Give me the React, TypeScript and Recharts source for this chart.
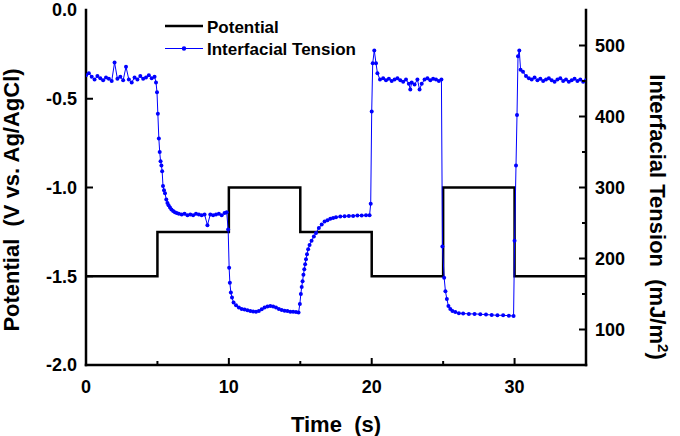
import { ComposedChart, Line, XAxis, YAxis, Legend } from "recharts";

const FONT = 'Arial, "Liberation Sans", Helvetica, sans-serif';
const BLUE = "#0000FF";

// potential steps (V vs. Ag/AgCl)
const potTime = [0, 5, 10, 15, 20, 25, 30, 35];
const potValue = [-1.5, -1.25, -1.0, -1.25, -1.5, -1.0, -1.5, -1.5];

// interfacial tension (mJ/m2)
const tensionTime = [
  0, 0.2, 0.4, 0.6, 0.8, 1.0, 1.2, 1.4, 1.6, 1.8, 2.0, 2.2, 2.4, 2.6, 2.8, 3.0, 3.2, 3.4, 3.6, 3.8, 4.0, 4.2, 4.4, 4.6, 4.8,
  4.9, 4.97, 5.03, 5.1, 5.16, 5.22, 5.28, 5.33, 5.39, 5.46, 5.53, 5.62, 5.7, 5.78, 5.88, 5.98, 6.1, 6.22, 6.35, 6.5, 6.7, 6.9,
  7.1, 7.3, 7.5, 7.7, 7.9, 8.1, 8.3, 8.5, 8.7, 8.9, 9.1, 9.3, 9.5, 9.7, 9.85,
  9.95, 10.02, 10.07, 10.14, 10.22, 10.33, 10.5, 10.7, 10.9, 11.1, 11.3, 11.5, 11.7, 11.9, 12.1, 12.3, 12.5, 12.7, 12.9,
  13.1, 13.3, 13.5, 13.7, 13.9, 14.1, 14.3, 14.5, 14.7, 14.88,
  14.97, 15.04, 15.1, 15.16, 15.22, 15.28, 15.34, 15.4, 15.47, 15.55, 15.65, 15.79, 15.95, 16.1, 16.3, 16.5, 16.7, 16.9,
  17.1, 17.3, 17.5, 17.8, 18.1, 18.4, 18.7, 19.0, 19.3, 19.6, 19.85,
  19.93, 20.0, 20.07, 20.18, 20.3, 20.4, 20.58, 20.8, 21.0, 21.2, 21.4, 21.6, 21.8, 22.0, 22.2, 22.4, 22.6, 22.7, 22.8,
  23.0, 23.2, 23.35, 23.5, 23.7, 23.9, 24.1, 24.3, 24.5, 24.7, 24.88,
  24.95, 25.07, 25.16, 25.26, 25.37, 25.5, 25.65, 25.85, 26.1, 26.4, 26.8, 27.2, 27.6, 28.0, 28.4, 28.8, 29.2, 29.6, 29.93,
  30.0, 30.1, 30.17, 30.24, 30.33, 30.42, 30.59, 30.8, 31.0, 31.2, 31.4, 31.6, 31.8, 32.0, 32.2, 32.4, 32.6, 32.8,
  33.0, 33.2, 33.4, 33.6, 33.8, 34.0, 34.2, 34.4, 34.6, 34.8, 35.0,
];
const tensionValue = [
  458, 461, 456, 452, 457, 454, 451, 455, 453, 450, 476, 453, 456, 451, 470, 452, 448, 455, 452, 457, 453, 455, 458, 454, 456,
  448, 434, 404, 369, 350, 337, 331, 323, 302, 296, 292, 283, 278, 275, 272, 269, 267, 265, 264, 263, 262, 263,
  261, 262, 261, 263, 262, 261, 262, 247, 262, 261, 262, 263, 261, 264, 265,
  241, 187, 166, 152, 145, 138, 134, 131, 129, 128, 127, 126, 125.5, 125, 126, 128.5, 131, 132.5, 133,
  132.5, 131, 129, 127.5, 126.5, 126, 125, 125, 124.5, 124,
  136, 150, 160, 168, 177, 185, 192, 199, 206, 213, 219, 225, 231, 236, 243, 248, 252, 254,
  256, 257, 258, 259, 259.5, 260, 260, 260.5, 260.5, 261, 261,
  277, 407, 475, 493, 475, 461, 452, 454, 451, 453, 450, 452, 454, 451, 449, 452, 446, 438, 448,
  445, 452, 438, 446, 452, 454, 451, 453, 452, 450, 452,
  217, 173, 154, 143, 133, 129, 126, 124.5, 123, 122.5, 122, 122, 121.5, 121, 120.5, 120, 120, 119.5, 119,
  225, 331, 402, 485, 493, 466, 463, 457, 454, 452, 455, 451, 453, 450, 452, 454, 451, 449,
  452, 454, 450, 452, 449, 451, 453, 450, 452, 449, 451,
];

const timeTicks = [0, 5, 10, 15, 20, 25, 30, 35];
const potTicks = [-2, -1.5, -1, -0.5, 0];
const tensionTicks = [100, 150, 200, 250, 300, 350, 400, 450, 500];

const potData = potTime.map((t, i) => ({ t, v: potValue[i] }));
const tensionData = tensionTime.map((t, i) => ({ t, v: tensionValue[i] }));

const tickText = { fontFamily: FONT, fontSize: 18, fontWeight: "bold" as const, fill: "#000" };
const axisLine = { stroke: "#000", strokeWidth: 2.5, strokeLinecap: "square" as const };

function BottomTick({ x, y, payload }: any) {
  const v = payload.value;
  const major = v % 10 === 0;
  return (
    <g>
      {v > 0 && v < 35 && (
        <line x1={x} x2={x} y1={y} y2={y - (major ? 7 : 4)} stroke="#000" strokeWidth={2} />
      )}
      {major && (
        <text x={x} y={y + 28} textAnchor="middle" {...tickText}>
          {v}
        </text>
      )}
    </g>
  );
}

function TopTick({ x, y, payload }: any) {
  const v = payload.value;
  if (v <= 0 || v >= 35) return <g />;
  const major = v % 10 === 0;
  return <line x1={x} x2={x} y1={y} y2={y + (major ? 7 : 4)} stroke="#000" strokeWidth={2} />;
}

function LeftTick({ x, y, payload }: any) {
  const v = payload.value;
  return (
    <g>
      {v > -2 && v < 0 && <line x1={x} x2={x + 7} y1={y} y2={y} stroke="#000" strokeWidth={2} />}
      <text x={x - 9} y={y} dy="0.36em" textAnchor="end" {...tickText}>
        {v.toFixed(1)}
      </text>
    </g>
  );
}

function RightTick({ x, y, payload }: any) {
  const v = payload.value;
  const major = v % 100 === 0;
  return (
    <g>
      <line x1={x} x2={x - (major ? 7 : 4)} y1={y} y2={y} stroke="#000" strokeWidth={2} />
      {major && (
        <text x={x + 9} y={y} dy="0.36em" textAnchor="start" {...tickText}>
          {v}
        </text>
      )}
    </g>
  );
}

const titleText = { fontFamily: FONT, fontSize: 22, fontWeight: "bold" as const, fill: "#000", style: { whiteSpace: "pre" as const } };

function LeftTitle() {
  return (
    <text x={18.5} y={200} transform="rotate(-90 18.5 200)" textAnchor="middle" {...titleText}>
      Potential  (V vs. Ag/AgCl)
    </text>
  );
}

function RightTitle() {
  return (
    <text x={650} y={217} transform="rotate(90 650 217)" textAnchor="middle" {...titleText}>
      Interfacial Tension  (mJ/m
      <tspan dy={-8} fontSize={15}>
        2
      </tspan>
      <tspan dy={8}>)</tspan>
    </text>
  );
}

function BottomTitle() {
  return (
    <text x={336} y={432} textAnchor="middle" {...titleText}>
      Time  (s)
    </text>
  );
}

function LegendBox() {
  const txt = { fontFamily: FONT, fontSize: 17, fontWeight: "bold" as const, fill: "#000" };
  return (
    <svg width={200} height={50}>
      <line x1={5} x2={43} y1={12} y2={12} stroke="#000" strokeWidth={2.5} />
      <text x={47} y={18.5} {...txt}>
        Potential
      </text>
      <line x1={5} x2={43} y1={34.5} y2={34.5} stroke={BLUE} strokeWidth={1} />
      <circle cx={24} cy={34.5} r={2.2} fill={BLUE} />
      <text x={47} y={41} {...txt}>
        Interfacial Tension
      </text>
    </svg>
  );
}

export default function App() {
  return (
    <div style={{ position: "absolute", left: 0, top: 0, width: 680, height: 436, background: "#fff" }}>
      <ComposedChart width={680} height={436} margin={{ top: 10, right: 0, bottom: 0, left: 0 }}>
        <XAxis
          dataKey="t"
          type="number"
          domain={[0, 35]}
          ticks={timeTicks}
          interval={0}
          height={71}
          tickSize={0}
          tickMargin={0}
          tickLine={false}
          tick={<BottomTick />}
          axisLine={axisLine}
          allowDataOverflow
          label={<BottomTitle />}
        />
        <XAxis
          xAxisId="top"
          orientation="top"
          dataKey="t"
          type="number"
          domain={[0, 35]}
          ticks={timeTicks}
          interval={0}
          height={0}
          tickSize={0}
          tickMargin={0}
          tickLine={false}
          tick={<TopTick />}
          axisLine={axisLine}
          allowDataOverflow
        />
        <YAxis
          yAxisId="pot"
          type="number"
          domain={[-2, 0]}
          ticks={potTicks}
          interval={0}
          width={86}
          tickSize={0}
          tickMargin={0}
          tickLine={false}
          tick={<LeftTick />}
          axisLine={axisLine}
          allowDataOverflow
          label={<LeftTitle />}
        />
        <YAxis
          yAxisId="ten"
          orientation="right"
          type="number"
          domain={[50, 550]}
          ticks={tensionTicks}
          interval={0}
          width={94}
          tickSize={0}
          tickMargin={0}
          tickLine={false}
          tick={<RightTick />}
          axisLine={axisLine}
          allowDataOverflow
          label={<RightTitle />}
        />
        <Legend
          layout="vertical"
          align="center"
          verticalAlign="middle"
          content={<LegendBox />}
          wrapperStyle={{ position: "absolute", left: 160, top: 14, width: 200, height: 50 }}
        />
        <Line
          data={potData}
          dataKey="v"
          yAxisId="pot"
          type="stepAfter"
          stroke="#000"
          strokeWidth={2.5}
          dot={false}
          isAnimationActive={false}
        />
        <Line
          data={tensionData}
          dataKey="v"
          yAxisId="ten"
          type="linear"
          stroke={BLUE}
          strokeWidth={1}
          dot={{ r: 2, fill: BLUE, stroke: "none" }}
          isAnimationActive={false}
        />
      </ComposedChart>
    </div>
  );
}
